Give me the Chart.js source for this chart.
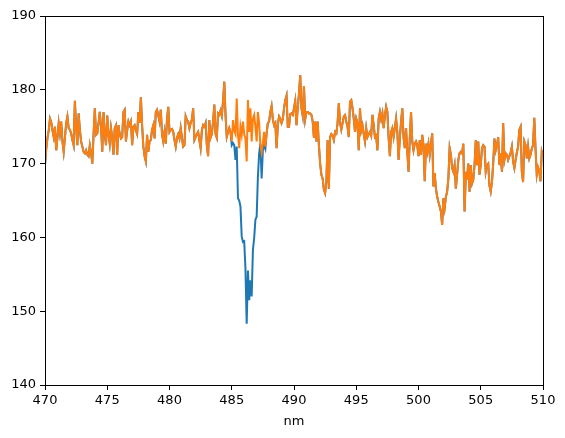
<!DOCTYPE html>
<html>
<head>
<meta charset="utf-8">
<script src="https://cdn.jsdelivr.net/npm/chart.js@4"></script>
<style>
  body { margin: 0; background: #fff; }
</style>
</head>
<body>
<canvas id="myChart" width="565" height="438"></canvas>
<script>
// wavelength grid
const startNm = 470;
const stepNm = 0.1;

// tick labels
const xTicks = [470, 475, 480, 485, 490, 495, 500, 505, 510];
const yTicks = [140, 150, 160, 170, 180, 190];

// orange: spectrum with the line removed, one row per nm
const cleaned = [
  169.8, 172.0, 173.5, 174.5, 176.1, 175.6, 174.5, 173.6, 175.0, 171.8, // 470
  173.5, 175.5, 174.1, 175.7, 173.0, 171.6, 173.5, 175.5, 176.4, 174.8, // 471
  174.6, 174.1, 173.2, 172.5, 178.5, 174.8, 172.5, 176.8, 174.6, 173.0, // 472
  172.3, 171.6, 171.4, 171.8, 171.2, 171.0, 172.5, 171.5, 170.0, 173.9, // 473
  177.5, 173.9, 174.1, 175.5, 177.0, 175.0, 171.6, 177.0, 174.0, 172.5, // 474
  176.5, 174.0, 172.7, 174.8, 173.5, 171.2, 174.8, 175.2, 171.2, 175.2, // 475
  174.0, 173.4, 173.6, 177.0, 177.3, 173.0, 174.5, 175.7, 175.2, 175.7, // 476
  172.5, 175.0, 175.2, 174.5, 174.0, 177.0, 175.5, 179.0, 175.2, 172.3, // 477
  171.0, 170.3, 173.9, 171.6, 173.0, 173.2, 174.6, 175.2, 173.4, 177.0, // 478
  177.3, 176.5, 175.7, 177.3, 174.0, 173.0, 174.3, 172.7, 176.0, 177.7, // 479
  174.3, 174.6, 174.7, 174.3, 173.2, 172.3, 173.5, 174.0, 173.4, 174.8, // 480
  173.5, 172.3, 172.5, 176.4, 175.9, 175.7, 174.8, 175.5, 176.0, 177.5, // 481
  173.2, 173.6, 174.0, 174.3, 173.2, 172.1, 174.5, 175.2, 175.0, 175.5, // 482
  172.5, 171.0, 175.9, 173.5, 174.0, 175.7, 178.0, 174.0, 173.5, 176.8, // 483
  176.6, 177.2, 176.5, 178.4, 181.1, 176.6, 173.6, 174.2, 174.8, 174.3, // 484
  173.0, 175.9, 174.5, 174.0, 178.8, 173.9, 172.1, 175.0, 173.9, 175.7, // 485
  174.0, 173.4, 170.3, 178.6, 174.3, 177.5, 173.0, 176.1, 176.6, 175.0, // 486
  173.0, 177.0, 175.5, 172.5, 171.5, 172.8, 174.3, 172.3, 174.1, 175.5, // 487
  175.7, 177.0, 177.8, 176.0, 175.2, 175.5, 172.1, 175.2, 176.4, 176.1, // 488
  175.5, 176.0, 177.5, 178.6, 179.2, 175.0, 175.0, 176.7, 176.8, 176.6, // 489
  177.5, 178.5, 175.2, 177.5, 179.5, 182.0, 177.5, 176.5, 180.5, 176.0, // 490
  177.0, 177.0, 176.8, 176.8, 176.6, 175.7, 173.5, 175.7, 173.0, 175.7, // 491
  172.5, 170.0, 168.5, 168.0, 166.5, 166.0, 167.5, 173.2, 166.6, 173.6, // 492
  174.0, 173.8, 173.2, 174.3, 174.1, 175.5, 178.2, 175.5, 174.6, 175.5, // 493
  176.4, 176.6, 175.7, 175.0, 173.6, 178.4, 178.6, 177.5, 176.1, 174.3, // 494
  176.1, 175.5, 171.8, 177.5, 174.5, 175.2, 174.0, 173.0, 174.8, 173.6, // 495
  174.0, 174.3, 173.8, 176.6, 175.2, 173.6, 173.8, 171.8, 176.1, 177.0, // 496
  176.0, 176.8, 174.8, 176.5, 177.7, 177.0, 173.5, 171.0, 174.3, 174.8, // 497
  173.6, 174.8, 176.1, 174.3, 170.5, 173.4, 175.7, 177.5, 173.5, 172.1, // 498
  174.8, 171.6, 168.9, 173.4, 177.0, 173.0, 171.8, 172.7, 173.0, 172.5, // 499
  171.0, 173.2, 171.2, 173.9, 172.5, 167.6, 172.7, 171.6, 172.7, 171.2, // 500
  172.7, 174.1, 166.9, 168.7, 166.6, 165.5, 164.8, 164.2, 163.5, 161.7, // 501
  165.3, 164.0, 165.5, 166.2, 168.0, 172.1, 171.2, 169.4, 168.9, 169.8, // 502
  166.6, 168.5, 170.5, 171.4, 171.6, 171.4, 172.7, 163.5, 168.5, 168.2, // 503
  170.0, 166.2, 169.8, 167.3, 167.8, 169.8, 173.2, 169.8, 173.0, 168.5, // 504
  169.8, 172.1, 172.5, 172.3, 168.9, 169.8, 170.0, 167.0, 166.2, 167.5, // 505
  170.0, 173.4, 171.8, 172.5, 173.6, 169.8, 171.4, 168.9, 175.5, 170.5, // 506
  171.4, 171.2, 170.5, 171.0, 171.5, 172.3, 170.3, 169.4, 170.5, 171.5, // 507
  172.3, 174.6, 175.0, 168.9, 167.5, 173.0, 172.5, 170.7, 172.3, 170.7, // 508
  171.2, 172.0, 172.5, 176.2, 172.0, 168.5, 169.5, 169.0, 167.6, 171.6, // 509
  171.0                                                                 // 510
];

// blue: observed spectrum differs only around the H-beta line (485.0 - 487.7 nm)
const dipStartNm = 485.0;
const dipObserved = [
  172.5, 172.8, 172.5, 170.5, 172.3, 165.3, 165.0, 164.2, 160.1, 159.4,
  159.5, 155.8, 148.3, 155.5, 151.5, 154.2, 152.0, 158.3, 159.9, 162.4,
  162.8, 168.2, 171.4, 172.7, 168.0, 171.8, 172.5, 172.0
];

const dipIndex = Math.round((dipStartNm - startNm) / stepNm);
const observed = cleaned.slice();
dipObserved.forEach((v, k) => { observed[dipIndex + k] = v; });

const toPoints = arr => arr.map((v, i) => ({ x: +(startNm + i * stepNm).toFixed(1), y: v }));

// matplotlib style full frame around the axes
const frame = {
    id: 'frame',
    afterDraw(chart) {
        const a = chart.chartArea, c = chart.ctx;
        c.save();
        c.strokeStyle = '#000';
        c.lineWidth = 1;
        c.strokeRect(Math.round(a.left) + 0.5, Math.round(a.top) + 0.5,
            Math.round(a.right - a.left), Math.round(a.bottom - a.top));
        c.restore();
    }
};

const font = { family: 'DejaVu Sans', size: 13 };

new Chart(document.getElementById('myChart').getContext('2d'), {
    type: 'line',
    data: {
        datasets: [{
            label: 'observed',
            data: toPoints(observed),
            borderColor: '#1f77b4',
            borderWidth: 2,
            pointRadius: 0,
            order: 2
        }, {
            label: 'cleaned',
            data: toPoints(cleaned),
            borderColor: '#ff7f0e',
            borderWidth: 2,
            pointRadius: 0,
            order: 1
        }]
    },
    options: {
        responsive: false,
        animation: false,
        layout: { padding: { top: 16, right: 22, left: 0, bottom: 0 } },
        plugins: { legend: { display: false }, tooltip: { enabled: false } },
        scales: {
            x: {
                type: 'linear',
                min: 470,
                max: 510,
                afterBuildTicks: s => { s.ticks = xTicks.map(v => ({ value: v })); },
                afterFit: s => { s.height = 53; },
                grid: { drawOnChartArea: false, color: '#000', tickLength: 5 },
                border: { color: '#000', width: 1 },
                ticks: { color: '#000', font: font, padding: 3, maxRotation: 0 },
                title: { display: true, text: 'nm', color: '#000', font: font, padding: { top: 0, bottom: 9 } }
            },
            y: {
                min: 140,
                max: 190,
                afterBuildTicks: s => { s.ticks = yTicks.map(v => ({ value: v })); },
                afterFit: s => { s.width = 45; },
                grid: { drawOnChartArea: false, color: '#000', tickLength: 5 },
                border: { color: '#000', width: 1 },
                ticks: { color: '#000', font: font, padding: 4 }
            }
        }
    },
    plugins: [frame]
});
</script>
</body>
</html>
